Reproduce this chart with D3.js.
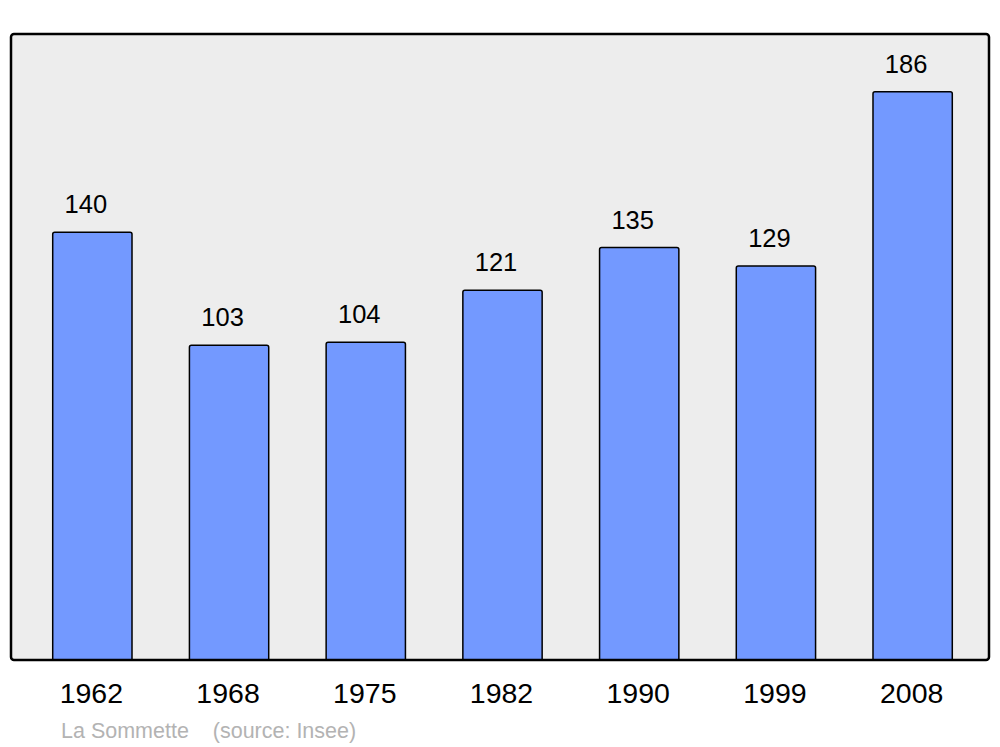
<!DOCTYPE html>
<html>
<head>
<meta charset="utf-8">
<script src="https://cdn.jsdelivr.net/npm/d3@7"></script>
<style>
  body { margin: 0; background: #fff; }
  text { font-family: "Liberation Sans", Arial, sans-serif; }
</style>
</head>
<body>
<div id="chart"></div>
<script>
const years = ["1962", "1968", "1975", "1982", "1990", "1999", "2008"];
const population = [140, 103, 104, 121, 135, 129, 186];
const caption = ["La Sommette", "(source: Insee)"];

const width = 1000, height = 747;
const frame = { left: 11, top: 34, right: 989, bottom: 660 };

const svg = d3.select("#chart").append("svg")
  .attr("width", width)
  .attr("height", height);

// fond du graphique
svg.append("rect")
  .attr("x", frame.left)
  .attr("y", frame.top)
  .attr("width", frame.right - frame.left)
  .attr("height", frame.bottom - frame.top)
  .attr("rx", 3)
  .attr("fill", "#ededed")
  .attr("stroke", "none");

const x = d3.scaleBand()
  .domain(years)
  .range([24, 981])
  .paddingInner(0.42)
  .paddingOuter(0.21);

const y = d3.scaleLinear()
  .domain([0, 205])
  .range([frame.bottom, frame.bottom - 205 * 3.055]);

// barre avec coins arrondis en haut
function barPath(x0, y0, w, h, r) {
  return `M${x0},${y0 + h}V${y0 + r}Q${x0},${y0} ${x0 + r},${y0}` +
    `H${x0 + w - r}Q${x0 + w},${y0} ${x0 + w},${y0 + r}V${y0 + h}`;
}

const data = years.map((d, i) => ({ year: d, value: population[i] }));

svg.selectAll("path.bar")
  .data(data)
  .enter().append("path")
  .attr("class", "bar")
  .attr("d", d => barPath(x(d.year), y(d.value), x.bandwidth(), y(0) - y(d.value), 2))
  .attr("fill", "#7399ff")
  .attr("stroke", "#000")
  .attr("stroke-width", 1.5);

svg.selectAll("text.value")
  .data(data)
  .enter().append("text")
  .attr("class", "value")
  .attr("x", d => x(d.year) + x.bandwidth() / 2 - 6.5)
  .attr("y", d => y(d.value) - 19)
  .attr("text-anchor", "middle")
  .attr("font-size", 25.5)
  .attr("fill", "#000")
  .text(d => d.value);

// cadre
svg.append("rect")
  .attr("x", frame.left)
  .attr("y", frame.top)
  .attr("width", frame.right - frame.left)
  .attr("height", frame.bottom - frame.top)
  .attr("rx", 3)
  .attr("fill", "none")
  .attr("stroke", "#000")
  .attr("stroke-width", 2.5);

const xAxis = svg.append("g")
  .attr("transform", `translate(-1,${frame.bottom})`)
  .call(d3.axisBottom(x).tickSize(0).tickPadding(0));
xAxis.select(".domain").remove();
xAxis.selectAll("text")
  .attr("dy", null)
  .attr("y", 43)
  .attr("font-size", 28.5)
  .attr("font-family", "Liberation Sans, Arial, sans-serif")
  .attr("fill", "#000");

svg.append("text")
  .attr("x", 61)
  .attr("y", 738)
  .attr("font-size", 21.5)
  .attr("fill", "#b3b3b3")
  .attr("xml:space", "preserve")
  .text(caption[0] + "    " + caption[1]);
</script>
</body>
</html>
